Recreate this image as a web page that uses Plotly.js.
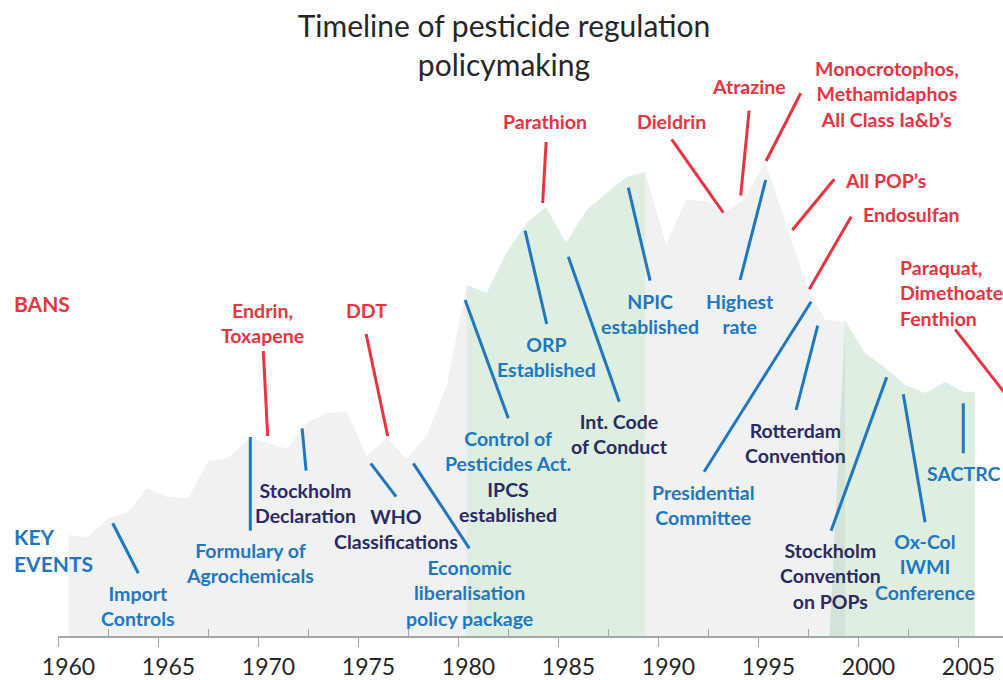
<!DOCTYPE html>
<html>
<head>
<meta charset="utf-8">
<script src="https://cdn.plot.ly/plotly-3.0.1.min.js"></script>
<style>html,body{margin:0;padding:0;background:#fff;}#chart{width:1003px;height:680px;}</style>
</head>
<body>
<div id="chart"></div>
<script>
// ---- Data ----
const curveYears = [1960.49,1961.49,1962.49,1963.49,1964.41,1965.41,1966.49,1967.49,1968.49,1969.58,1970.5,1971.44,1972.41,1973.41,1974.41,1975.41,1976.41,1977.41,1978.41,1979.41,1980.41,1981.41,1982.41,1983.41,1984.36,1985.38,1986.41,1987.41,1988.41,1989.33,1990.38,1991.38,1992.41,1993.24,1994.24,1995.33,1996.38,1997.49,1998.33,1999.33,2000.33,2001.33,2002.33,2003.33,2004.33,2005.24,2005.83];
const curveValues = [101,99,118,124,148,139,138,175,178,199,193,187,213,223,224,180,198,177,201,250,351,343,383,413,429,393,426,443,459,464,391,436,435,423,436,474,411,346,316,315,283,268,251,243,254,244,244];

const greyEnd = 1999.33;
const period1 = [1980.41, 1989.33];
const period2 = [1998.55, 2005.83];

const tickYears = [1960,1965,1970,1975,1980,1985,1990,1995,2000,2005];
const tickLabels = ['1960','1965','1970','1975','1980','1985','1990','1995','2000','2005'];

// Bans (red labels)
const banLabels = ['Endrin,<br>Toxapene','DDT','Parathion','Dieldrin','Atrazine','Monocrotophos,<br>Methamidaphos<br>All Class Ia&b\u2019s','All POP\u2019s','Endosulfan','Paraquat,<br>Dimethoate<br>Fenthion'];
const banTextX = [1970.21,1975.38,1984.33,1990.63,1994.53,2001.41,2001.33,2002.66,2001.96];
const banTextY = [313,326,515,515,550,541.7,456,421.7,343.3];
const banAlign = ['center','center','center','center','center','center','center','center','left'];
const banLineX0 = [1970.24,1975.38,1984.38,1990.66,1994.53,1997.11,1998.79,1999.63,2004.83];
const banLineY0 = [285,302,494,496.7,525.3,542.7,456.7,419.3,306.7];
const banLineX1 = [1970.46,1976.46,1984.21,1993.24,1994.11,1995.38,1996.69,1997.54,2007.58];
const banLineY1 = [200,200,433,423.3,440.3,475,406,346.7,236];

// Key events
const eventLabels = ['Import<br>Controls','Formulary of<br>Agrochemicals','Stockholm<br>Declaration','WHO<br>Classifications','Economic<br>liberalisation<br>policy package','Control of<br>Pesticides Act.','IPCS<br>established','ORP<br>Established','Int. Code<br>of Conduct','NPIC<br>established','Highest<br>rate','Presidential<br>Committee','Rotterdam<br>Convention','Stockholm<br>Convention<br>on POPs','Ox-Col<br>IWMI<br>Conference','SACTRC'];
const eventTextX = [1963.99,1969.58,1972.36,1976.88,1980.53,1982.49,1982.49,1984.41,1988.04,1989.58,1994.08,1992.24,1996.86,1998.58,2003.33,2005.24];
const eventTextY = [29.7,72.7,132.7,107,43.5,184.7,133.8,279.2,202.3,322.2,321.8,131,193,60,69,162.7];
const eventKind = ['blue','blue','navy','navy','blue','blue','navy','blue','navy','blue','blue','blue','navy','navy','blue','blue'];
const eventLineX0 = [1962.71,1969.59,1972.18,1975.61,1977.74,1980.33,1983.33,1985.49,1988.49,1995.36,1997.63,1997.96,2001.41,2002.24,2005.24];
const eventLineY0 = [112.7,199,207.7,172.7,172.7,336,405.3,379.3,448.3,456,334.3,310.3,258.7,241.7,232.7];
const eventLineX1 = [1963.99,1969.59,1972.38,1976.88,1980.54,1982.49,1984.41,1988.04,1989.58,1994.08,1992.28,1996.88,1998.63,2003.33,2005.24];
const eventLineY1 = [62.7,105.3,165.3,139.3,87.7,217.7,312,234.3,355.3,356,164.3,226,105.3,113.7,182.7];

// ---- Styles ----
const RED = '#e9333f', BLUE = '#1f77c1', NAVY = '#2b2a62';
const FONT = 'Lato, "Open Sans", sans-serif';

function sliceCurve(a, b) {
  const xs = [], ys = [];
  curveYears.forEach((x, i) => { if (x >= a - 1e-6 && x <= b + 1e-6) { xs.push(x); ys.push(curveValues[i]); } });
  return {xs, ys};
}

const grey = sliceCurve(curveYears[0], greyEnd);
const g1 = sliceCurve(period1[0], period1[1]);
const g2 = sliceCurve(greyEnd, period2[1]);

const traces = [
  {x: grey.xs, y: grey.ys, type: 'scatter', mode: 'lines', fill: 'tozeroy',
   fillcolor: 'rgb(240,241,243)', line: {width: 0, color: 'rgba(0,0,0,0)'}, hoverinfo: 'skip', showlegend: false},
  {x: g1.xs, y: g1.ys, type: 'scatter', mode: 'lines', fill: 'tozeroy',
   fillcolor: 'rgb(222,238,224)', line: {width: 0, color: 'rgba(0,0,0,0)'}, hoverinfo: 'skip', showlegend: false},
  {x: [period2[0]].concat(g2.xs), y: [0].concat(g2.ys), type: 'scatter', mode: 'lines', fill: 'tozeroy',
   fillcolor: 'rgba(123,187,131,0.25)', line: {width: 0, color: 'rgba(0,0,0,0)'}, hoverinfo: 'skip', showlegend: false}
];

const shapes = [];
banLineX0.forEach((_, i) => shapes.push({type: 'line', xref: 'x', yref: 'y',
  x0: banLineX0[i], y0: banLineY0[i], x1: banLineX1[i], y1: banLineY1[i], line: {color: RED, width: 3}}));
eventLineX0.forEach((_, i) => shapes.push({type: 'line', xref: 'x', yref: 'y',
  x0: eventLineX0[i], y0: eventLineY0[i], x1: eventLineX1[i], y1: eventLineY1[i], line: {color: BLUE, width: 3}}));

const annotations = [];
banLabels.forEach((t, i) => annotations.push({x: banTextX[i], y: banTextY[i], xref: 'x', yref: 'y', text: t,
  showarrow: false, xanchor: banAlign[i], align: banAlign[i], yanchor: 'middle',
  font: {family: FONT, size: 19.5, weight: 700, color: RED}}));
eventLabels.forEach((t, i) => annotations.push({x: eventTextX[i], y: eventTextY[i], xref: 'x', yref: 'y', text: t,
  showarrow: false, xanchor: 'center', align: 'center', yanchor: 'middle',
  font: {family: FONT, size: 19.5, weight: 700, color: eventKind[i] === 'navy' ? NAVY : BLUE}}));
annotations.push({x: 12.7/1003 - 58/945, xref: 'paper', y: 333, yref: 'y', text: 'BANS', showarrow: false,
  xanchor: 'left', yanchor: 'middle', align: 'left', font: {family: FONT, size: 21, weight: 700, color: RED}});
annotations.push({x: 12.7/1003 - 58/945, xref: 'paper', y: 86, yref: 'y', text: 'KEY<br>EVENTS', showarrow: false,
  xanchor: 'left', yanchor: 'middle', align: 'left', font: {family: FONT, size: 21, weight: 700, color: BLUE}});

const layout = {
  width: 1003, height: 680,
  margin: {l: 58, r: 0, t: 0, b: 44, pad: 0},
  paper_bgcolor: '#ffffff', plot_bgcolor: '#ffffff',
  showlegend: false,
  title: {text: 'Timeline of pesticide regulation<br>policymaking', x: 0.5025, xanchor: 'center', xref: 'container',
          y: 0.945, yanchor: 'top', yref: 'container', font: {family: FONT, size: 30, color: '#262626'}},
  xaxis: {range: [1959.975, 2007.225], tickmode: 'array', tickvals: tickYears, ticktext: tickLabels,
          ticks: 'outside', ticklen: 9, tickwidth: 1.5, tickcolor: '#a6a6a6',
          showline: true, linecolor: '#a6a6a6', linewidth: 2, showgrid: false, zeroline: false,
          ticklabelshift: 10, tickfont: {family: FONT, size: 23, color: '#262626'},
          minor: {tickmode: 'linear', tick0: 1962.5, dtick: 5, ticks: 'inside', ticklen: 7, tickwidth: 1.5, tickcolor: '#a6a6a6', showgrid: false},
          fixedrange: true},
  yaxis: {range: [0, 636], visible: false, fixedrange: true},
  shapes: shapes,
  annotations: annotations
};

Plotly.newPlot('chart', traces, layout, {displayModeBar: false, staticPlot: true});
</script>
</body>
</html>
